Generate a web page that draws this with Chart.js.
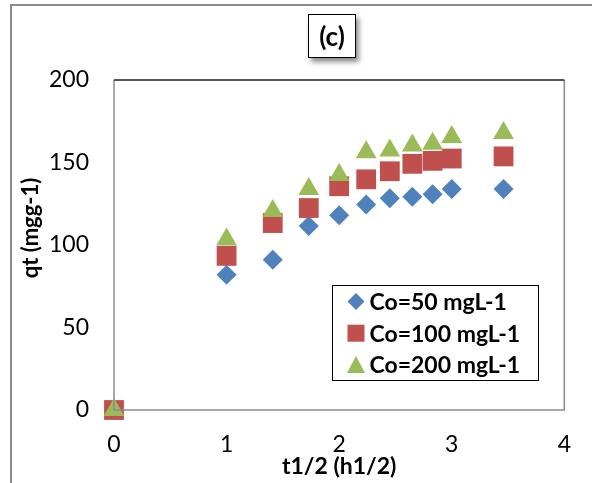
<!DOCTYPE html>
<html>
<head>
<meta charset="utf-8">
<script src="https://cdn.jsdelivr.net/npm/chart.js@4/dist/chart.umd.min.js"></script>
<style>
  body { margin: 0; background: #fff; }
  #wrap { position: relative; width: 592px; height: 483px; }
  #panel {
    position: absolute; left: 308px; top: 14px; width: 46px; height: 42px;
    border: 1px solid #000; background: #fff;
    box-shadow: 3px 4px 5px rgba(0, 0, 0, 0.45);
    font: bold 26px Lato, sans-serif; color: #000;
    display: flex; align-items: center; justify-content: center;
  }
</style>
</head>
<body>
<div id="wrap">
  <canvas id="kineticsChart" width="592" height="483"></canvas>
  <div id="panel">(c)</div>
</div>
<script>
// t^(1/2) values (h^1/2) and adsorbed amount qt (mg/g) per initial concentration
const sqrtTime = [0, 1, 1.41, 1.73, 2, 2.24, 2.45, 2.65, 2.83, 3, 3.46];
const qt50 = [0, 82, 91, 111.5, 118, 124.5, 128.3, 129.2, 130.7, 134, 134];
const qt100 = [0, 93.4, 113.3, 122.4, 135.6, 139.8, 144.7, 149.2, 151, 152.4, 153.7];
const qt200 = [0, 103.4, 120.6, 134, 142.5, 156.2, 157.2, 160.3, 161.3, 165.4, 167.9];

const seriesLabels = ["Co=50 mgL-1", "Co=100 mgL-1", "Co=200 mgL-1"];
const xTicks = [0, 1, 2, 3, 4];
const yTicks = [0, 50, 100, 150, 200];
const yTitle = "qt (mgg-1)";

const BLUE = "#4F81BD";
const RED = "#C0504D";
const GREEN = "#9BBB59";

function toPoints(ys) {
  return sqrtTime.map((x, i) => ({ x: x, y: ys[i] }));
}

// outer frame, plot border, y title (sits above the axis middle in the original)
const framePlugin = {
  id: "frame",
  beforeDraw(chart) {
    const ctx = chart.ctx;
    ctx.save();
    ctx.strokeStyle = "#8a8a8a";
    ctx.lineWidth = 2;
    ctx.strokeRect(11, 5, 620, 520);
    ctx.translate(31, chart.chartArea.top + 148);
    ctx.rotate(-Math.PI / 2);
    ctx.fillStyle = "#000";
    ctx.font = "bold 22px Lato";
    ctx.textAlign = "center";
    ctx.textBaseline = "middle";
    ctx.fillText(yTitle, 0, 0);
    ctx.restore();
  },
  afterDatasetsDraw(chart) {
    const { ctx, chartArea: a } = chart;
    ctx.save();
    ctx.lineWidth = 1.5;
    ctx.strokeStyle = "#8c8c8c";
    ctx.beginPath();
    ctx.moveTo(a.left, a.top);
    ctx.lineTo(a.left, a.bottom);
    ctx.lineTo(a.right, a.bottom);
    ctx.lineTo(a.right, a.top);
    ctx.stroke();
    ctx.strokeStyle = "#222";
    ctx.beginPath();
    ctx.moveTo(a.left, a.top);
    ctx.lineTo(a.right, a.top);
    ctx.stroke();
    ctx.restore();
  }
};

// boxed legend inside the plot, lower right
const boxLegend = {
  id: "boxLegend",
  afterDraw(chart) {
    const ctx = chart.ctx;
    const a = chart.chartArea;
    const left = a.left + 218.5, top = a.top + 205.5, w = 206, h = 95;
    ctx.save();
    ctx.fillStyle = "#fff";
    ctx.fillRect(left, top, w, h);
    ctx.strokeStyle = "#000";
    ctx.lineWidth = 1;
    ctx.strokeRect(left, top, w, h);
    chart.data.datasets.forEach((ds, i) => {
      const cy = top + 16 + i * 31.7;
      const cx = left + 23.5;
      ctx.fillStyle = ds.backgroundColor;
      ctx.beginPath();
      if (ds.pointStyle === "rectRot") {
        ctx.moveTo(cx, cy - 8.5);
        ctx.lineTo(cx + 8.5, cy);
        ctx.lineTo(cx, cy + 8.5);
        ctx.lineTo(cx - 8.5, cy);
      } else if (ds.pointStyle === "rect") {
        ctx.rect(cx - 8.5, cy - 8.5, 17, 17);
      } else {
        ctx.moveTo(cx, cy - 9);
        ctx.lineTo(cx + 9, cy + 8);
        ctx.lineTo(cx - 9, cy + 8);
      }
      ctx.closePath();
      ctx.fill();
      ctx.fillStyle = "#000";
      ctx.font = "bold 23px Lato";
      ctx.textBaseline = "middle";
      ctx.fillText(ds.label, left + 37, cy + 1);
    });
    ctx.restore();
  }
};

const ctx = document.getElementById("kineticsChart").getContext("2d");
const chart = new Chart(ctx, {
  type: "scatter",
  data: {
    datasets: [
      {
        label: seriesLabels[0],
        data: toPoints(qt50),
        pointStyle: "rectRot",
        pointRadius: 10,
        backgroundColor: BLUE,
        borderColor: BLUE,
        borderWidth: 0,
        order: 3,
        clip: false
      },
      {
        label: seriesLabels[1],
        data: toPoints(qt100),
        pointStyle: "rect",
        pointRadius: 14,
        backgroundColor: RED,
        borderColor: RED,
        borderWidth: 0,
        order: 2,
        clip: false
      },
      {
        label: seriesLabels[2],
        data: toPoints(qt200),
        pointStyle: "triangle",
        pointRadius: 12,
        backgroundColor: GREEN,
        borderColor: GREEN,
        borderWidth: 0,
        order: 1,
        clip: false
      }
    ]
  },
  options: {
    responsive: false,
    animation: false,
    layout: {
      padding: { top: 80, right: 26, left: 0, bottom: 0 }
    },
    scales: {
      x: {
        type: "linear",
        min: xTicks[0],
        max: xTicks[xTicks.length - 1],
        afterFit(scale) { scale.height = 73; },
        grid: { display: false, drawTicks: false },
        border: { display: false },
        ticks: {
          stepSize: 1,
          padding: 21,
          color: "#000",
          font: { family: "Lato", size: 23 }
        },
        title: {
          display: true,
          text: "t1/2 (h1/2)",
          color: "#000",
          font: { family: "Lato", size: 23, weight: "bold" },
          padding: { top: 0, bottom: 3 }
        }
      },
      y: {
        min: yTicks[0],
        max: yTicks[yTicks.length - 1],
        afterFit(scale) { scale.width = 114; },
        grid: { display: false, drawTicks: false },
        border: { display: false },
        ticks: {
          stepSize: 50,
          padding: 25,
          color: "#000",
          font: { family: "Lato", size: 23 }
        }
      }
    },
    plugins: {
      legend: { display: false },
      tooltip: { enabled: false }
    }
  },
  plugins: [framePlugin, boxLegend]
});
</script>
</body>
</html>
